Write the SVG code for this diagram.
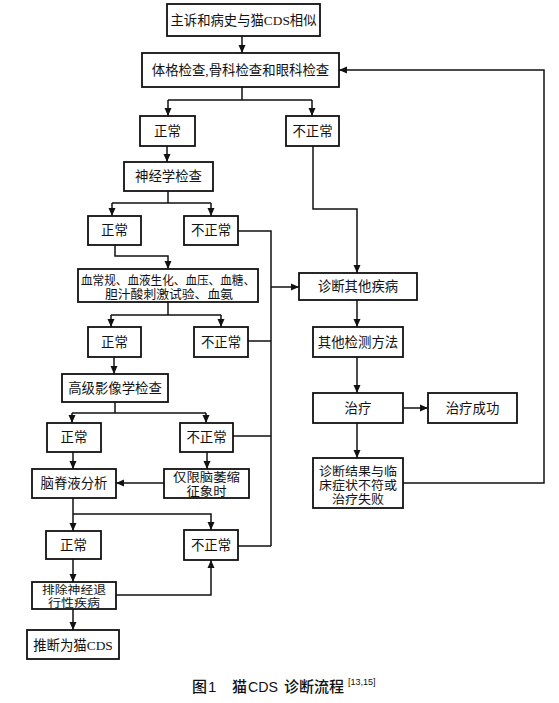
<svg xmlns="http://www.w3.org/2000/svg" width="559" height="703" viewBox="0 0 559 703">
<style>
.box{fill:#fff;stroke:#111;stroke-width:1.8}
.t{font-family:"Liberation Serif","Noto Sans CJK SC",serif;font-size:13.4px;fill:#111;text-anchor:middle}
.m{font-size:12.5px}
.s{font-size:11.5px}
.c{fill:none;stroke:#111;stroke-width:1.5}
.cap{font-family:"Liberation Sans","Noto Sans CJK SC",sans-serif;font-size:15px;font-weight:500;fill:#111}
</style>
<defs>
<marker id="ah" markerUnits="userSpaceOnUse" markerWidth="9" markerHeight="8" refX="8" refY="4" orient="auto">
<path d="M0,0.5 L8,4 L0,7.5 z" fill="#111"/>
</marker>
</defs>
<rect width="559" height="703" fill="#fff"/>
<g id="connectors">
<path class="c" d="M242,36 V53" marker-end="url(#ah)"/>
<path class="c" d="M242,87 V100 M168,100 H312"/>
<path class="c" d="M168,100 V116" marker-end="url(#ah)"/>
<path class="c" d="M312,100 V116" marker-end="url(#ah)"/>
<path class="c" d="M167,146 V162" marker-end="url(#ah)"/>
<path class="c" d="M168,191 V203 M112,203 H211"/>
<path class="c" d="M112,203 V216" marker-end="url(#ah)"/>
<path class="c" d="M211,203 V216" marker-end="url(#ah)"/>
<path class="c" d="M115,245 V256 H168 V269" marker-end="url(#ah)"/>
<path class="c" d="M238,231 H271 V546 M248,341 H271 M233,436 H271 M238,546 H271"/>
<path class="c" d="M271,287 H299" marker-end="url(#ah)"/>
<path class="c" d="M313,146 V209 H357 V273" marker-end="url(#ah)"/>
<path class="c" d="M168,302 V315 M111,315 H221"/>
<path class="c" d="M111,315 V327" marker-end="url(#ah)"/>
<path class="c" d="M221,315 V327" marker-end="url(#ah)"/>
<path class="c" d="M114,357 V374" marker-end="url(#ah)"/>
<path class="c" d="M115,402 V413 M72,413 H206"/>
<path class="c" d="M72,413 V423" marker-end="url(#ah)"/>
<path class="c" d="M206,413 V423" marker-end="url(#ah)"/>
<path class="c" d="M73,452 V469" marker-end="url(#ah)"/>
<path class="c" d="M207,452 V469" marker-end="url(#ah)"/>
<path class="c" d="M164,483 H116" marker-end="url(#ah)"/>
<path class="c" d="M73,498 V531" marker-end="url(#ah)"/>
<path class="c" d="M73,514 H211 V530" marker-end="url(#ah)"/>
<path class="c" d="M73,559 V582" marker-end="url(#ah)"/>
<path class="c" d="M116,595 H211 V560" marker-end="url(#ah)"/>
<path class="c" d="M73,609 V630" marker-end="url(#ah)"/>
<path class="c" d="M357,300 V327" marker-end="url(#ah)"/>
<path class="c" d="M357,357 V393" marker-end="url(#ah)"/>
<path class="c" d="M403,408 H428" marker-end="url(#ah)"/>
<path class="c" d="M357,423 V458" marker-end="url(#ah)"/>
<path class="c" d="M403,483 H544 V70 H339" marker-end="url(#ah)"/>
</g>
<g id="n1"><rect class="box" x="167" y="4" width="153" height="32"/><text class="t" x="243.5" y="25" textLength="146" lengthAdjust="spacingAndGlyphs">主诉和病史与猫CDS相似</text></g>
<g id="n2"><rect class="box" x="142" y="53" width="197" height="34"/><text class="t" x="240.5" y="75">体格检查,骨科检查和眼科检查</text></g>
<g id="n3"><rect class="box" x="140" y="116" width="55" height="30"/><text class="t" x="167.5" y="136">正常</text></g>
<g id="n4"><rect class="box" x="286" y="116" width="53" height="30"/><text class="t" x="312.5" y="136">不正常</text></g>
<g id="n5"><rect class="box" x="124" y="162" width="89" height="29"/><text class="t" x="168.5" y="181">神经学检查</text></g>
<g id="n6"><rect class="box" x="88" y="216" width="53" height="29"/><text class="t" x="114.5" y="235">正常</text></g>
<g id="n7"><rect class="box" x="184" y="216" width="54" height="29"/><text class="t" x="211" y="235">不正常</text></g>
<g id="n8"><rect class="box" x="78" y="269" width="180" height="33"/><text class="t m" x="168" y="285" textLength="174" lengthAdjust="spacingAndGlyphs">血常规、血液生化、血压、血糖、</text><text class="t m" x="169" y="299" textLength="128" lengthAdjust="spacingAndGlyphs">胆汁酸刺激试验、血氨</text></g>
<g id="n9"><rect class="box" x="88" y="327" width="53" height="30"/><text class="t" x="114.5" y="347">正常</text></g>
<g id="n10"><rect class="box" x="194" y="327" width="54" height="30"/><text class="t" x="221" y="347">不正常</text></g>
<g id="n11"><rect class="box" x="62" y="374" width="106" height="28"/><text class="t" x="115" y="393">高级影像学检查</text></g>
<g id="n12"><rect class="box" x="47" y="423" width="54" height="29"/><text class="t" x="74" y="442">正常</text></g>
<g id="n13"><rect class="box" x="180" y="423" width="53" height="29"/><text class="t" x="206.5" y="442">不正常</text></g>
<g id="n14"><rect class="box" x="32" y="469" width="84" height="29"/><text class="t" x="74" y="488">脑脊液分析</text></g>
<g id="n15"><rect class="box" x="164" y="469" width="85" height="29"/><text class="t m" x="206.5" y="482" textLength="67" lengthAdjust="spacingAndGlyphs">仅限脑萎缩</text><text class="t m" x="206.5" y="496" textLength="40" lengthAdjust="spacingAndGlyphs">征象时</text></g>
<g id="n16"><rect class="box" x="46" y="531" width="55" height="28"/><text class="t" x="73.5" y="550">正常</text></g>
<g id="n17"><rect class="box" x="184" y="530" width="54" height="30"/><text class="t" x="211" y="550">不正常</text></g>
<g id="n18"><rect class="box" x="32" y="582" width="84" height="27"/><text class="t s" x="74" y="594" textLength="64" lengthAdjust="spacingAndGlyphs">排除神经退</text><text class="t s" x="74" y="606.5" textLength="52" lengthAdjust="spacingAndGlyphs">行性疾病</text></g>
<g id="n19"><rect class="box" x="27" y="630" width="92" height="29"/><text class="t" x="73" y="649.5">推断为猫CDS</text></g>
<g id="n20"><rect class="box" x="299" y="273" width="118" height="27"/><text class="t" x="358" y="291">诊断其他疾病</text></g>
<g id="n21"><rect class="box" x="313" y="327" width="90" height="30"/><text class="t" x="358" y="347">其他检测方法</text></g>
<g id="n22"><rect class="box" x="313" y="393" width="90" height="30"/><text class="t" x="358" y="413">治疗</text></g>
<g id="n23"><rect class="box" x="428" y="393" width="89" height="30"/><text class="t" x="472.5" y="413">治疗成功</text></g>
<g id="n24"><rect class="box" x="313" y="458" width="90" height="50"/><text class="t m" x="358" y="476" textLength="78" lengthAdjust="spacingAndGlyphs">诊断结果与临</text><text class="t m" x="358" y="490" textLength="78" lengthAdjust="spacingAndGlyphs">床症状不符或</text><text class="t m" x="358" y="504" textLength="52" lengthAdjust="spacingAndGlyphs">治疗失败</text></g>
<g id="caption">
<text class="cap" x="192" y="692">图</text>
<text class="cap" x="208" y="692">1</text>
<text class="cap" x="232" y="692">猫</text>
<text class="cap" x="248" y="692" textLength="30" lengthAdjust="spacingAndGlyphs">CDS</text>
<text class="cap" x="284" y="692">诊断流程</text>
<text class="cap" x="348" y="685" style="font-size:9px;font-weight:normal">[13,15]</text>
</g>
</svg>
